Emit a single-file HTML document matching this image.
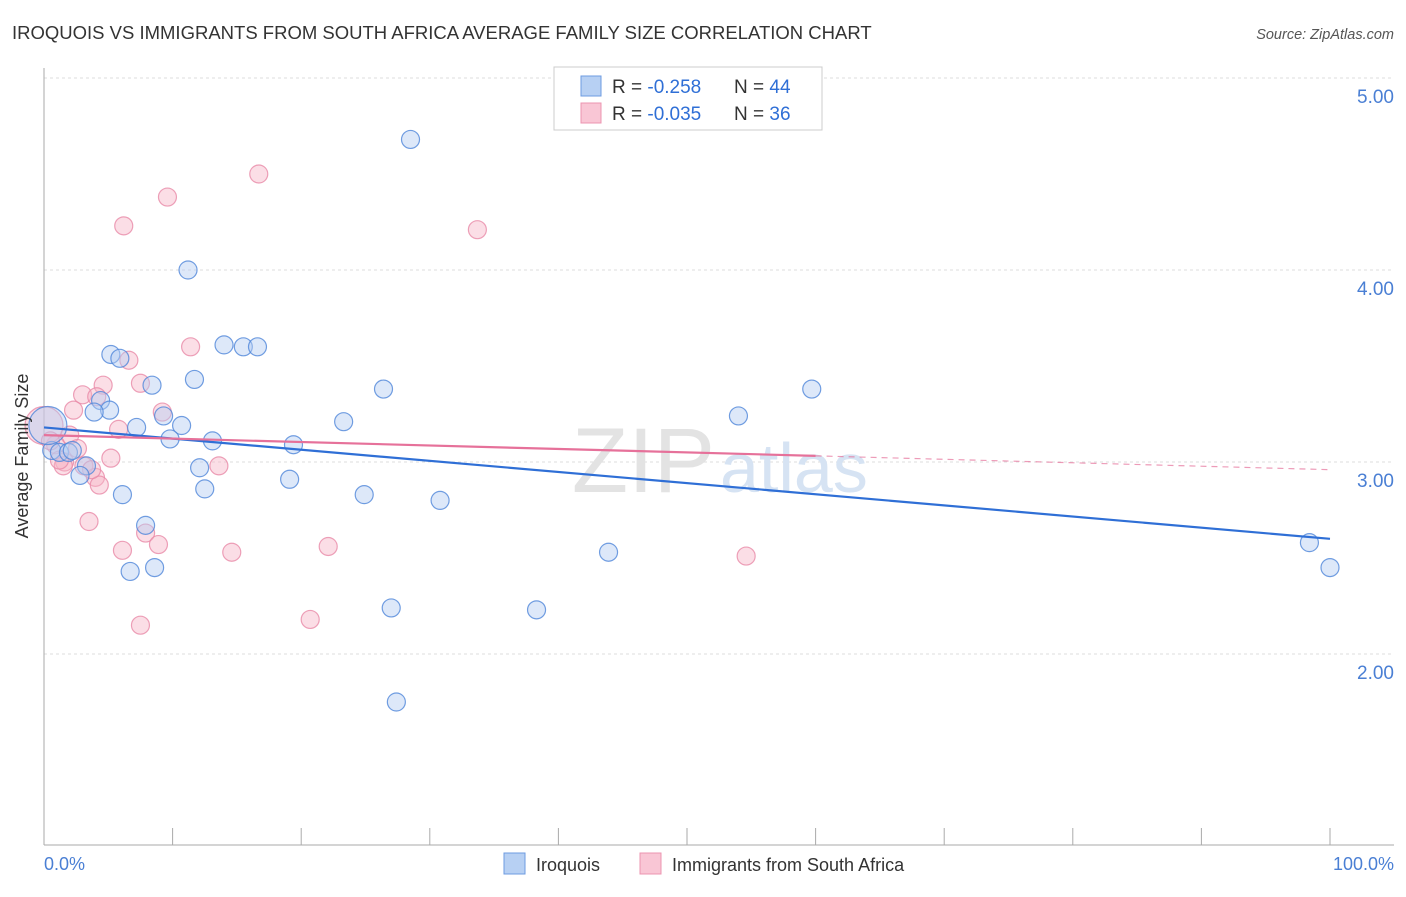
<!DOCTYPE html>
<html><head><meta charset="utf-8"><style>
body{margin:0;background:#fff;font-family:"Liberation Sans",sans-serif;}
svg text{font-family:"Liberation Sans",sans-serif;}
</style></head><body>
<svg width="1406" height="892" viewBox="0 0 1406 892">
<text x="12" y="39" font-size="18.5" fill="#333">IROQUOIS VS IMMIGRANTS FROM SOUTH AFRICA AVERAGE FAMILY SIZE CORRELATION CHART</text>
<text x="1394" y="39" font-size="14.5" fill="#555" font-style="italic" text-anchor="end">Source: ZipAtlas.com</text>
<g id="grid"></g>
<text x="715" y="492" font-size="92" fill="#e3e3e3" text-anchor="end" font-family="Liberation Serif">ZIP</text>
<text x="720" y="492" font-size="70" fill="#d6e3f3">atlas</text>
<g id="marks"></g>
<g id="lines"></g>
<text x="28" y="456" font-size="18" fill="#333" text-anchor="middle" transform="rotate(-90 28 456)">Average Family Size</text>
<text x="44" y="870" font-size="18" fill="#4a7fd4">0.0%</text>
<text x="1394" y="870" font-size="18" fill="#4a7fd4" text-anchor="end">100.0%</text>
<g>
<rect x="554" y="67" width="268" height="63" fill="#fff" stroke="#ccc"/>
<rect x="581" y="76" width="20" height="20" fill="#b7d0f3" stroke="#6d9be0"/>
<rect x="581" y="103" width="20" height="20" fill="#f9c6d5" stroke="#ec94b0"/>
<text x="612" y="93" font-size="19" fill="#333">R = <tspan fill="#2f6fd6">-0.258</tspan><tspan x="734">N = </tspan><tspan fill="#2f6fd6">44</tspan></text>
<text x="612" y="120" font-size="19" fill="#333">R = <tspan fill="#2f6fd6">-0.035</tspan><tspan x="734">N = </tspan><tspan fill="#2f6fd6"> 36</tspan></text>
</g>
<g>
<rect x="504" y="853" width="21" height="21" fill="#b7d0f3" stroke="#6d9be0"/>
<text x="536" y="871" font-size="18" fill="#333">Iroquois</text>
<rect x="640" y="853" width="21" height="21" fill="#f9c6d5" stroke="#ec94b0"/>
<text x="672" y="871" font-size="18" fill="#333">Immigrants from South Africa</text>
</g>
</svg>
<script>
const yTicks=[2,3,4,5];
const yTickLabels=["2.00","3.00","4.00","5.00"];
const xTicks=[0,10,20,30,40,50,60,70,80,90,100];
const blueX=[28.5,11.2,14.0,15.5,16.6,5.2,5.9,11.7,8.4,26.4,59.7,4.4,5.1,3.9,9.3,54.0,23.3,10.7,7.2,9.8,13.1,19.4,0.6,1.2,1.9,2.2,3.3,12.1,2.8,19.1,12.5,6.1,24.9,30.8,7.9,43.9,98.4,6.7,8.6,100,27.0,38.3,27.4,0.3];
const blueY=[4.68,4.00,3.61,3.60,3.60,3.56,3.54,3.43,3.40,3.38,3.38,3.32,3.27,3.26,3.24,3.24,3.21,3.19,3.18,3.12,3.11,3.09,3.06,3.05,3.05,3.06,2.98,2.97,2.93,2.91,2.86,2.83,2.83,2.80,2.67,2.53,2.58,2.43,2.45,2.45,2.24,2.23,1.75,3.19];
const pinkX=[16.7,9.6,6.2,33.7,11.4,6.6,4.6,7.5,3.0,4.1,2.3,9.2,5.8,5.2,2.0,0.9,2.6,1.6,1.5,13.6,3.1,4.0,4.3,3.5,7.9,8.9,6.1,14.6,22.1,54.6,20.7,7.5,0,0.5,1.2,3.7];
const pinkY=[4.50,4.38,4.23,4.21,3.60,3.53,3.40,3.41,3.35,3.34,3.27,3.26,3.17,3.02,3.14,3.09,3.07,3.00,2.98,2.98,2.98,2.92,2.88,2.69,2.63,2.57,2.54,2.53,2.56,2.51,2.18,2.15,3.19,3.11,3.01,2.96];
const blueTrend=[3.18,2.60];
const pinkTrend=[3.14,2.96];
const pinkSolidEnd=60;
const NS="http://www.w3.org/2000/svg";
const X=v=>44+v*12.86;
const Y=v=>846-(v-1)*192;
function mk(tag,attrs,parent){const e=document.createElementNS(NS,tag);for(const k in attrs)e.setAttribute(k,attrs[k]);parent.appendChild(e);return e;}
const grid=document.getElementById('grid');
yTicks.forEach((t,i)=>{
 const l=mk('line',{x1:44,x2:1394,y1:Y(t),y2:Y(t),stroke:'#ddd','stroke-dasharray':'3,3'},grid);
 
 
 const tx=mk('text',{x:1394,y:Y(t)+25,'font-size':19,fill:'#4a7fd4','text-anchor':'end'},grid);
 tx.textContent=yTickLabels[i];
 
 
});
const ax=mk('line',{x1:44,x2:44,y1:68,y2:845,stroke:'#aaa'},grid);


const bx=mk('line',{x1:44,x2:1394,y1:845,y2:845,stroke:'#aaa'},grid);


xTicks.forEach(t=>{
 const l=mk('line',{x1:X(t),x2:X(t),y1:828,y2:845,stroke:'#aaa'},grid);
 
 
});
const marks=document.getElementById('marks');
function pts(xs,ys,fill,stroke,name){
 xs.forEach((x,i)=>{
  const big=(x<=0.3&&Math.abs(ys[i]-3.19)<0.01);
  const c=mk('circle',{cx:X(x),cy:Y(ys[i]),r:big?19:9,fill:fill,'fill-opacity':0.45,stroke:stroke,'stroke-width':1.2,'stroke-opacity':0.8},marks);
  
  
 });
}
pts(pinkX,pinkY,'#f6b5c8','#e889a8','pink-point');
pts(blueX,blueY,'#b3cdf2','#4f86d9','blue-point');
const lines=document.getElementById('lines');
const bl=mk('line',{x1:X(0),y1:Y(blueTrend[0]),x2:X(100),y2:Y(blueTrend[1]),stroke:'#2f6fd6','stroke-width':2.2},lines);


const pm=pinkTrend[0]+(pinkTrend[1]-pinkTrend[0])*pinkSolidEnd/100;
const pl=mk('line',{x1:X(0),y1:Y(pinkTrend[0]),x2:X(pinkSolidEnd),y2:Y(pm),stroke:'#e6719a','stroke-width':2.2},lines);


const pd=mk('line',{x1:X(pinkSolidEnd),y1:Y(pm),x2:X(100),y2:Y(pinkTrend[1]),stroke:'#e6719a','stroke-width':1.2,'stroke-dasharray':'6,5','stroke-opacity':0.7},lines);


</script>
</body></html>
